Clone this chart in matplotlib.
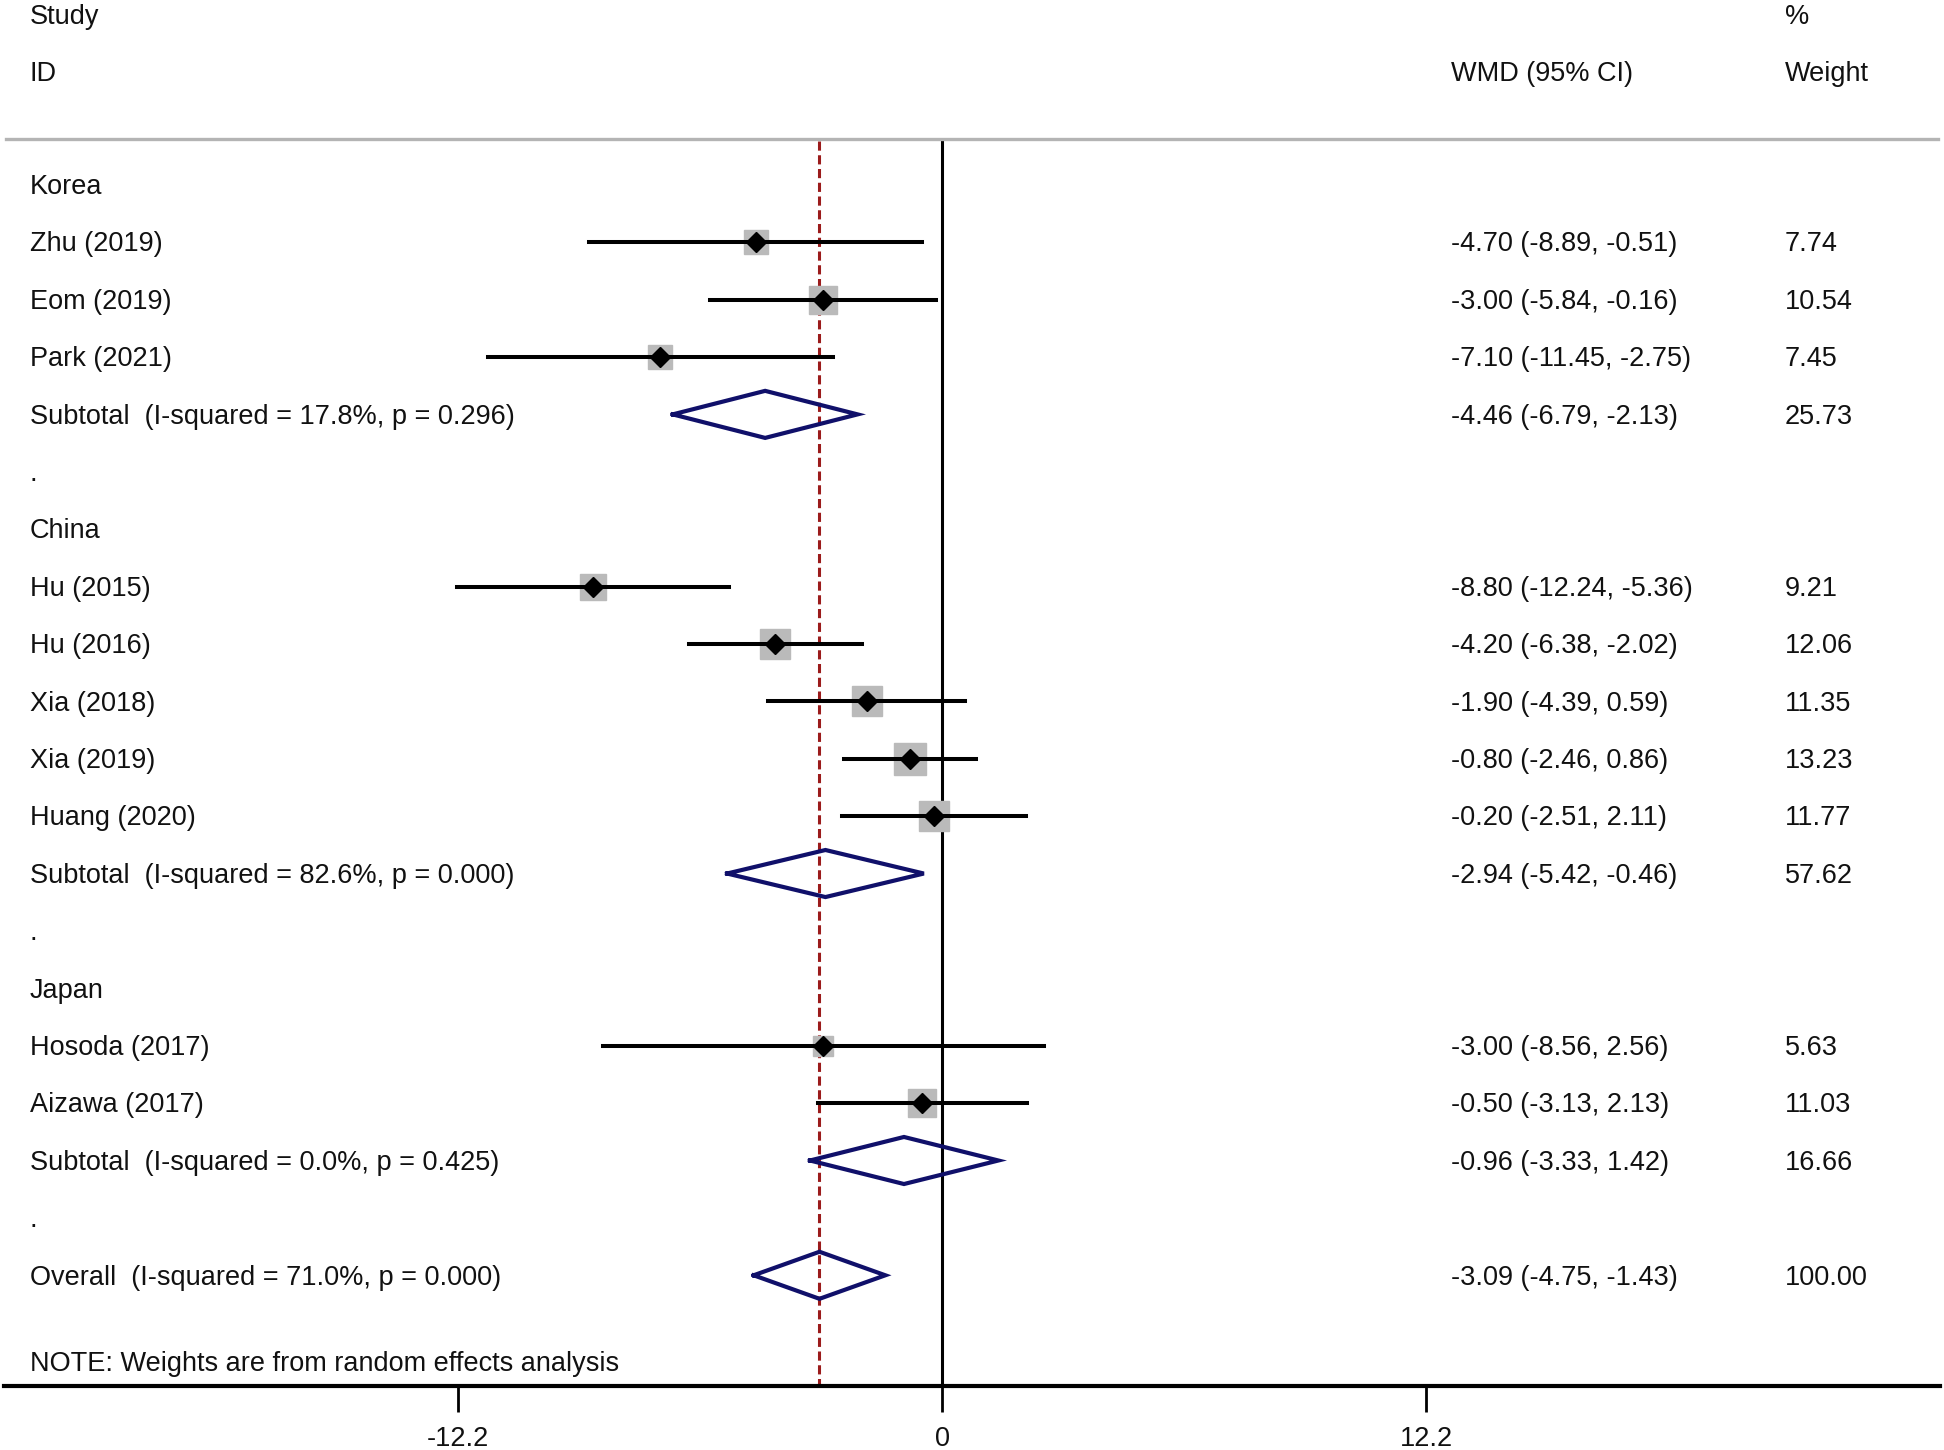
import numpy as np
import matplotlib
matplotlib.use("Agg")
from matplotlib import pyplot as plt

plt.rcParams['font.family'] = ['Liberation Sans', 'DejaVu Sans']

# study rows
groups = ['Korea', 'China', 'Japan']
studies = [['Zhu (2019)', 'Eom (2019)', 'Park (2021)'],
           ['Hu (2015)', 'Hu (2016)', 'Xia (2018)', 'Xia (2019)', 'Huang (2020)'],
           ['Hosoda (2017)', 'Aizawa (2017)']]
est = [[-4.70, -3.00, -7.10],
       [-8.80, -4.20, -1.90, -0.80, -0.20],
       [-3.00, -0.50]]
lo = [[-8.89, -5.84, -11.45],
      [-12.24, -6.38, -4.39, -2.46, -2.51],
      [-8.56, -3.13]]
hi = [[-0.51, -0.16, -2.75],
      [-5.36, -2.02, 0.59, 0.86, 2.11],
      [2.56, 2.13]]
weight = [[7.74, 10.54, 7.45],
          [9.21, 12.06, 11.35, 13.23, 11.77],
          [5.63, 11.03]]

# subtotals
sub_est = [-4.46, -2.94, -0.96]
sub_lo = [-6.79, -5.42, -3.33]
sub_hi = [-2.13, -0.46, 1.42]
sub_w = [25.73, 57.62, 16.66]
sub_i2 = ['17.8%', '82.6%', '0.0%']
sub_p = ['0.296', '0.000', '0.425']

overall = (-3.09, -4.75, -1.43)
overall_w = 100.00
overall_i2, overall_p = '71.0%', '0.000'

ticks = [-12.2, 0, 12.2]

fs = 19.5
xl, xw, xwt = 0.0154, 0.7464, 0.9182
dy = 0.04   # small nudge so text sits on the row

fig = plt.figure(figsize=(19.44, 14.5), dpi=100)
ax = fig.add_axes([0, 0.0441, 1, 0.9559])
ax.set_xlim(-23.75, 25.26)
ax.set_ylim(20.93, -3.22)
tr = ax.get_yaxis_transform()

def txt(x, y, s):
    ax.text(x, y + dy, s, transform=tr, fontsize=fs, va='center', color='#111111')

def diamond(row, e, l, h):
    ax.plot([l, e, h, e, l], [row, row - 0.41, row, row + 0.41, row],
            color='#10106a', lw=3.0, zorder=4, solid_joinstyle='miter')

def wmd(e, l, h):
    return '%.2f (%.2f, %.2f)' % (e, l, h)

row = 0
for g in range(len(groups)):
    txt(xl, row, groups[g])
    row += 1
    for i in range(len(studies[g])):
        side = 6.2 * np.sqrt(weight[g][i])
        ax.plot(est[g][i], row, marker='s', ms=side, color='#bababa', mec='#bababa', zorder=2)
        ax.plot([lo[g][i], hi[g][i]], [row, row], color='black', lw=2.9, zorder=3)
        ax.plot(est[g][i], row, marker='D', ms=10, color='black', zorder=5)
        txt(xl, row, studies[g][i])
        txt(xw, row, wmd(est[g][i], lo[g][i], hi[g][i]))
        txt(xwt, row, '%.2f' % weight[g][i])
        row += 1
    diamond(row, sub_est[g], sub_lo[g], sub_hi[g])
    txt(xl, row, 'Subtotal  (I-squared = %s, p = %s)' % (sub_i2[g], sub_p[g]))
    txt(xw, row, wmd(sub_est[g], sub_lo[g], sub_hi[g]))
    txt(xwt, row, '%.2f' % sub_w[g])
    row += 1
    txt(xl, row, '.')
    row += 1

diamond(row, *overall)
txt(xl, row, 'Overall  (I-squared = %s, p = %s)' % (overall_i2, overall_p))
txt(xw, row, wmd(*overall))
txt(xwt, row, '%.2f' % overall_w)
txt(xl, row + 1.5, 'NOTE: Weights are from random effects analysis')

# headers
txt(xl, -2.97, 'Study')
txt(xl, -1.97, 'ID')
txt(xw, -1.97, 'WMD (95% CI)')
txt(xwt, -2.97, '%')
txt(xwt, -1.97, 'Weight')
ax.plot([0.003, 0.997], [-0.8, -0.8], transform=tr, color='#b4b4b4', lw=2.4)

# reference lines
ax.plot([0, 0], [-0.76, 20.93], color='black', lw=2.2, zorder=1)
ax.plot([overall[0], overall[0]], [-0.76, 20.93], color='#9b1b1b', lw=2.2,
        ls=(0, (3, 1.5)), zorder=1)

# bottom axis line across the whole width
ax.plot([0.002, 0.998], [20.93, 20.93], transform=tr, color='black', lw=3.0,
        clip_on=False, zorder=6)
for s in ['top', 'left', 'right', 'bottom']:
    ax.spines[s].set_visible(False)
ax.set_yticks([])
ax.set_xticks(ticks)
ax.set_xticklabels(['-12.2', '0', '12.2'])
ax.tick_params(axis='x', length=19, width=2.0, pad=10, labelsize=fs,
               labelcolor='#111111')

fig.savefig('out.png', dpi=100)
